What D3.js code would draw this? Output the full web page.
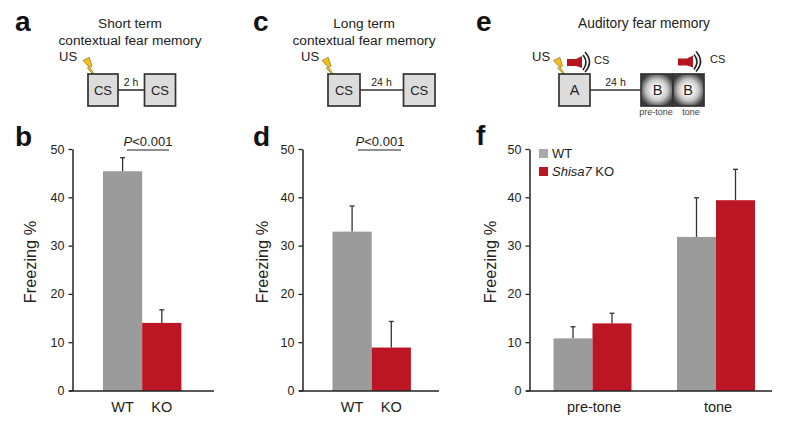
<!DOCTYPE html>
<html><head><meta charset="utf-8">
<script src="https://cdn.jsdelivr.net/npm/d3@7"></script>
<style>html,body{margin:0;background:#fff}svg{display:block}text{font-family:"Liberation Sans",Arial,sans-serif;fill:#222}</style>
</head><body><div id="c"></div>
<script>
const yTicks=[0,10,20,30,40,50];
const bCats=["WT","KO"], bValues=[45.5,14.1], bErrors=[48.3,16.8];
const dCats=["WT","KO"], dValues=[33,9], dErrors=[38.3,14.4];
const fCats=["pre-tone","tone"], fSeries=["WT","Shisa7 KO"];
const fWT=[10.9,31.9], fWTErr=[13.3,40], fKO=[14,39.5], fKOErr=[16.1,45.9];
const GRAY="#9b9b9b", RED="#bc1524", INK="#222";
const svg=d3.select("#c").append("svg").attr("width",791).attr("height",422);
const defs=svg.append("defs");
const rg=defs.append("radialGradient").attr("id","rg").attr("r","0.56");
rg.append("stop").attr("offset","20%").attr("stop-color","#fff");
rg.append("stop").attr("offset","60%").attr("stop-color","#c4c4c4");
rg.append("stop").attr("offset","100%").attr("stop-color","#3a3a3a");

function txt(x,y,s,size,anchor="middle",extra={}){const t=svg.append("text").attr("x",x).attr("y",y).attr("font-size",size).attr("text-anchor",anchor).text(s);for(const k in extra)t.style(k,extra[k]);return t;}
function yAxis(x0,top,bottom,xlabel){
  const y=d3.scaleLinear().domain([0,50]).range([bottom,top]);
  const g=svg.append("g").attr("transform",`translate(${x0-0.5},-0.5)`).call(d3.axisLeft(y).tickValues(yTicks).tickSize(4).tickSizeOuter(0).tickPadding(4));
  g.select(".domain").attr("stroke",INK).attr("stroke-width",1.5);
  g.selectAll(".tick line").attr("stroke",INK).attr("stroke-width",1.3);
  g.selectAll(".tick text").attr("font-size",12.5).attr("fill",INK).style("font-family",'"Liberation Sans",Arial,sans-serif');
  svg.append("text").attr("transform",`translate(${xlabel},262) rotate(-90)`).attr("text-anchor","middle").attr("font-size",16.3).text("Freezing %");
  return y;
}
function xLine(x0,x1,b){svg.append("line").attr("x1",x0-4).attr("x2",x1).attr("y1",b).attr("y2",b).attr("stroke",INK).attr("stroke-width",1.5);}
function bar(y,x,w,v,e,color,b){
  const cx=x+w/2;
  svg.append("rect").attr("x",x).attr("width",w).attr("y",y(v)).attr("height",b-y(v)).attr("fill",color);
  svg.append("line").attr("x1",cx).attr("x2",cx).attr("y1",y(v)).attr("y2",y(e)).attr("stroke","#333").attr("stroke-width",1.3);
  svg.append("line").attr("x1",cx-2.5).attr("x2",cx+2.5).attr("y1",y(e)).attr("y2",y(e)).attr("stroke","#333").attr("stroke-width",1.3);
}
function twoBar(x0,x1,xlabel,cats,vals,errs,bx,w,sig,px){
  const b=391,t=149.5;
  const y=yAxis(x0,t,b,xlabel);
  const xs=d3.scaleBand().domain(cats).range([bx,bx+2*w]);
  cats.forEach((c,i)=>{bar(y,xs(c),xs.bandwidth(),vals[i],errs[i],i?RED:GRAY,b);
    txt(xs(c)+xs.bandwidth()/2,412,c,14.5);});
  xLine(x0,x1,b);
  const p=svg.append("text").attr("x",px).attr("y",146).attr("text-anchor","middle").attr("font-size",13);
  p.append("tspan").attr("font-style","italic").text("P");p.append("tspan").text("<0.001");
  svg.append("line").attr("x1",sig[0]).attr("x2",sig[1]).attr("y1",150).attr("y2",150).attr("stroke",INK).attr("stroke-width",1.2);
}
twoBar(73,214,36,bCats,bValues,bErrors,103,39.2,[127,169],148);
twoBar(303,439,268,dCats,dValues,dErrors,332.5,39.2,[358,401],380);

// panel f
{
  const b=391,t=149.5;
  const y=yAxis(530,t,b,496);
  const cent={"pre-tone":592.5,"tone":716};
  const w=39;
  const lab={"pre-tone":594,"tone":718};
  fCats.forEach((c,i)=>{
    bar(y,cent[c]-w,w,fWT[i],fWTErr[i],GRAY,b);
    bar(y,cent[c],w,fKO[i],fKOErr[i],RED,b);
    txt(lab[c],412,c,14.5);
  });
  xLine(530,772,b);
  svg.append("rect").attr("x",539).attr("y",149).attr("width",9).attr("height",9).attr("fill","#aaa");
  svg.append("rect").attr("x",539).attr("y",167).attr("width",9).attr("height",9).attr("fill",RED);
  txt(552,158,fSeries[0],13,"start");
  const l=svg.append("text").attr("x",552).attr("y",175.5).attr("font-size",13);
  l.append("tspan").attr("font-style","italic").text("Shisa7");l.append("tspan").text(" KO");
}

// panel letters
[["a",15,31],["c",253,31],["e",476,31],["b",15,146],["d",253,146],["f",476,145]].forEach(d=>{
  txt(d[1],d[2],d[0],28,"start",{"font-weight":"bold","fill":"#111"});
});

// schematics
function box(x,y,w,h,label,size=13){
  svg.append("rect").attr("x",x).attr("y",y).attr("width",w).attr("height",h).attr("fill","#dcdcdc").attr("stroke","#333").attr("stroke-width",1.7);
  if(label)txt(x+w/2,95,label,size);
}
function link(x1,x2,y,label,ly){
  svg.append("line").attr("x1",x1).attr("x2",x2).attr("y1",y).attr("y2",y).attr("stroke","#333").attr("stroke-width",1.6);
  txt((x1+x2)/2,ly,label,10.5);
}
function bolt(x,y){
  svg.append("path").attr("transform",`translate(${x},${y})`)
   .attr("d","M0,1.5 L6.3,-1.7 L9,7 L6.5,8 L13,18 L4.3,9.3 L5.7,7.7 Z").attr("fill","#f2bf1c").attr("stroke","#7a5f12").attr("stroke-width",0.6);
}
function speaker(x,y){
  const g=svg.append("g").attr("transform",`translate(${x},${y})`);
  g.append("path").attr("d","M0,5 L9,5 L15,2 L15,14 L9,12 L0,12 Z").attr("fill","#b5151f");
  g.append("path").attr("d","M16,1 Q22,8 16,16").attr("fill","none").attr("stroke","#222").attr("stroke-width",1.6);
  g.append("path").attr("d","M18,-2 Q27,8 18,18").attr("fill","none").attr("stroke","#222").attr("stroke-width",1.6);
}
txt(130,27.5,"Short term",13.7);txt(130,45,"contextual fear memory",13.7);
txt(59,60.5,"US",13,"start");bolt(83,59);
box(88,74,30,32,"CS");box(144.5,74,31,32,"CS");link(118,144,90,"2 h",86);

txt(364,27.5,"Long term",13.7);txt(364,45,"contextual fear memory",13.7);
txt(301,60.5,"US",13,"start");bolt(322,59);
box(328,74,32,32,"CS");box(403.5,74,31.5,32,"CS");link(360,403,90,"24 h",86);

txt(644,27.5,"Auditory fear memory",13.8);
txt(532,60.5,"US",13,"start");bolt(553.5,59);
speaker(567,54);txt(594,64,"CS",11,"start");
box(559,74,31,32,"A",14.5);link(590,641,90,"24 h",86);
svg.append("rect").attr("x",641).attr("y",74).attr("width",32).attr("height",32).attr("fill","url(#rg)").attr("stroke","#333").attr("stroke-width",1.7);
svg.append("rect").attr("x",673).attr("y",74).attr("width",31).attr("height",32).attr("fill","url(#rg)").attr("stroke","#333").attr("stroke-width",1.7);
txt(657.5,95,"B",14.5);txt(688,95,"B",14.5);
txt(656,115,"pre-tone",9,"middle",{"fill":"#444"});txt(691,115,"tone",9,"middle",{"fill":"#444"});
speaker(678,53.5);txt(710,63,"CS",11,"start");
</script></body></html>
